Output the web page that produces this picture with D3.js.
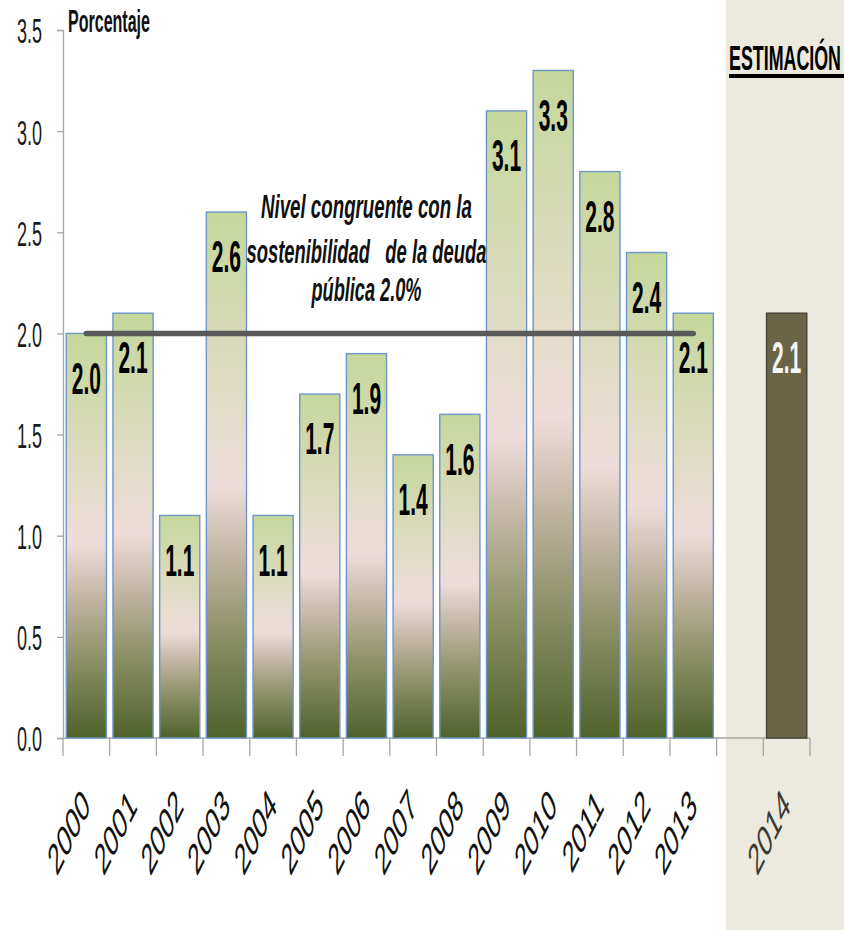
<!DOCTYPE html>
<html>
<head>
<meta charset="utf-8">
<script src="https://cdn.jsdelivr.net/npm/d3@7"></script>
<style>
  html, body { margin: 0; padding: 0; background: #fff; }
  svg { display: block; }
  text { font-family: "Liberation Sans", Arial, sans-serif; }
</style>
</head>
<body>
<svg id="chart" width="844" height="930"></svg>
<script>
// Balance values (percent) by year
const years = ["2000","2001","2002","2003","2004","2005","2006","2007","2008","2009","2010","2011","2012","2013"];
const values = [2.0, 2.1, 1.1, 2.6, 1.1, 1.7, 1.9, 1.4, 1.6, 3.1, 3.3, 2.8, 2.4, 2.1];
const estYears = ["2014"];
const estValues = [2.1];
const yTicks = [0, 0.5, 1.0, 1.5, 2.0, 2.5, 3.0, 3.5];
const refLevel = 2.0;
const refLines = ["Nivel congruente con la", "sostenibilidad   de la deuda", "pública 2.0%"];
const yTitle = "Porcentaje";
const estTitle = "ESTIMACIÓN";

const svg = d3.select("#chart");
const W = 844, H = 930;
const plotL = 63, plotR = 810, plotT = 30, plotB = 738;
const SY = 2.0; // vertical stretch applied to all text

const domain = [...years, "", ...estYears];
const x = d3.scaleBand().domain(domain).range([plotL, plotR]).paddingInner(0.14).paddingOuter(0.07);
const y = d3.scaleLinear().domain([0, 3.5]).range([plotB, plotT]);
const step = x.step();

// Shaded estimate panel
svg.append("rect")
  .attr("x", x("") + 6).attr("y", 0)
  .attr("width", W - (x("") + 6)).attr("height", H)
  .attr("fill", "#ECE9DF");

// Bar gradient
const defs = svg.append("defs");
const grad = defs.append("linearGradient").attr("id", "barGrad")
  .attr("x1", 0).attr("y1", 0).attr("x2", 0).attr("y2", 1);
[[0, "#C5D79B"], [0.22, "#D6DAB6"], [0.4, "#E4DCCB"], [0.52, "#EEDCDA"],
 [0.66, "#BFB4A0"], [0.8, "#8E9169"], [1, "#4F622B"]]
  .forEach(([o, c]) => grad.append("stop").attr("offset", o).attr("stop-color", c));

// Y axis
const yAxis = svg.append("g").attr("transform", `translate(${plotL},0)`)
  .call(d3.axisLeft(y).tickValues(yTicks).tickSize(6).tickFormat(d3.format(".1f")));
yAxis.select(".domain").attr("stroke", "#A6A6A6").attr("stroke-width", 1.3);
yAxis.selectAll(".tick line").attr("stroke", "#A6A6A6").attr("stroke-width", 1.3);
yAxis.selectAll(".tick text")
  .attr("x", -21).attr("dy", "0.36em")
  .attr("transform", `scale(1,${SY})`)
  .attr("font-size", 18).attr("fill", "#1a1a1a");

// X axis line and boundary ticks
svg.append("line").attr("x1", plotL).attr("x2", plotR).attr("y1", plotB).attr("y2", plotB)
  .attr("stroke", "#A6A6A6").attr("stroke-width", 1.5);
d3.range(domain.length + 1).forEach(i => {
  svg.append("line")
    .attr("x1", plotL + i * step).attr("x2", plotL + i * step)
    .attr("y1", plotB).attr("y2", plotB + 18)
    .attr("stroke", "#A6A6A6").attr("stroke-width", 1.3);
});

// Bars
svg.append("g").selectAll("rect").data(years).join("rect")
  .attr("x", d => x(d)).attr("width", x.bandwidth())
  .attr("y", (d, i) => y(values[i])).attr("height", (d, i) => plotB - y(values[i]))
  .attr("fill", "url(#barGrad)")
  .attr("stroke", "#6E96CA").attr("stroke-width", 1.4);

svg.append("g").selectAll("rect").data(estYears).join("rect")
  .attr("x", d => x(d)).attr("width", x.bandwidth())
  .attr("y", (d, i) => y(estValues[i])).attr("height", (d, i) => plotB - y(estValues[i]))
  .attr("fill", "#6B6548")
  .attr("stroke", "#4A4636").attr("stroke-width", 1.5);

// Reference level line
svg.append("line")
  .attr("x1", x(years[0]) + x.bandwidth() / 2)
  .attr("x2", x(years[years.length - 1]) + x.bandwidth() / 2)
  .attr("y1", y(refLevel)).attr("y2", y(refLevel))
  .attr("stroke", "#595959").attr("stroke-width", 5.5).attr("stroke-linecap", "round");

// Value labels inside the bars
function valueLabel(cat, v, color) {
  svg.append("text")
    .attr("transform", `translate(${x(cat) + x.bandwidth() / 2},${y(v) + 44}) scale(1,2.15)`)
    .attr("dy", "0.36em")
    .attr("text-anchor", "middle")
    .attr("font-size", 21).attr("font-weight", "bold")
    .attr("fill", color)
    .text(d3.format(".1f")(v));
}
years.forEach((c, i) => valueLabel(c, values[i], "#000"));
estYears.forEach((c, i) => valueLabel(c, estValues[i], "#F4F4F4"));

// Year labels (rotated)
domain.forEach(c => {
  if (!c) return;
  svg.append("text")
    .attr("transform", `translate(${x(c) + x.bandwidth() / 2 + 5},${plotB + 70}) scale(1,${SY}) rotate(-45)`)
    .attr("text-anchor", "end")
    .attr("font-size", 22)
    .attr("fill", estYears.includes(c) ? "#3a3a32" : "#111")
    .text(c);
});

// Axis title
svg.append("text")
  .attr("transform", `translate(${plotL + 5},32) scale(1,${SY})`)
  .attr("font-size", 16).attr("font-weight", "bold").attr("fill", "#111")
  .attr("textLength", 82).attr("lengthAdjust", "spacingAndGlyphs")
  .text(yTitle);

// Reference level annotation
const annX = x("2006") + x.bandwidth() / 2;
const annBase = [218, 263, 301];
const annW = [211, 240, 110];
refLines.forEach((t, i) => {
  svg.append("text")
    .attr("transform", `translate(${annX},${annBase[i]}) scale(1,1.8)`)
    .attr("text-anchor", "middle")
    .attr("font-size", 18).attr("font-weight", "bold").attr("font-style", "italic")
    .attr("fill", "#111")
    .attr("textLength", annW[i]).attr("lengthAdjust", "spacingAndGlyphs")
    .style("white-space", "pre")
    .text(t);
});

// Estimate heading, fitted to the panel width
svg.append("text")
  .attr("transform", `translate(729,70) scale(1,2.0)`)
  .attr("font-size", 17.5).attr("font-weight", "bold").attr("fill", "#000")
  .attr("textLength", 112).attr("lengthAdjust", "spacingAndGlyphs")
  .text(estTitle);
svg.append("rect").attr("x", 729).attr("y", 74).attr("width", W - 729).attr("height", 4).attr("fill", "#000");
</script>
</body>
</html>
